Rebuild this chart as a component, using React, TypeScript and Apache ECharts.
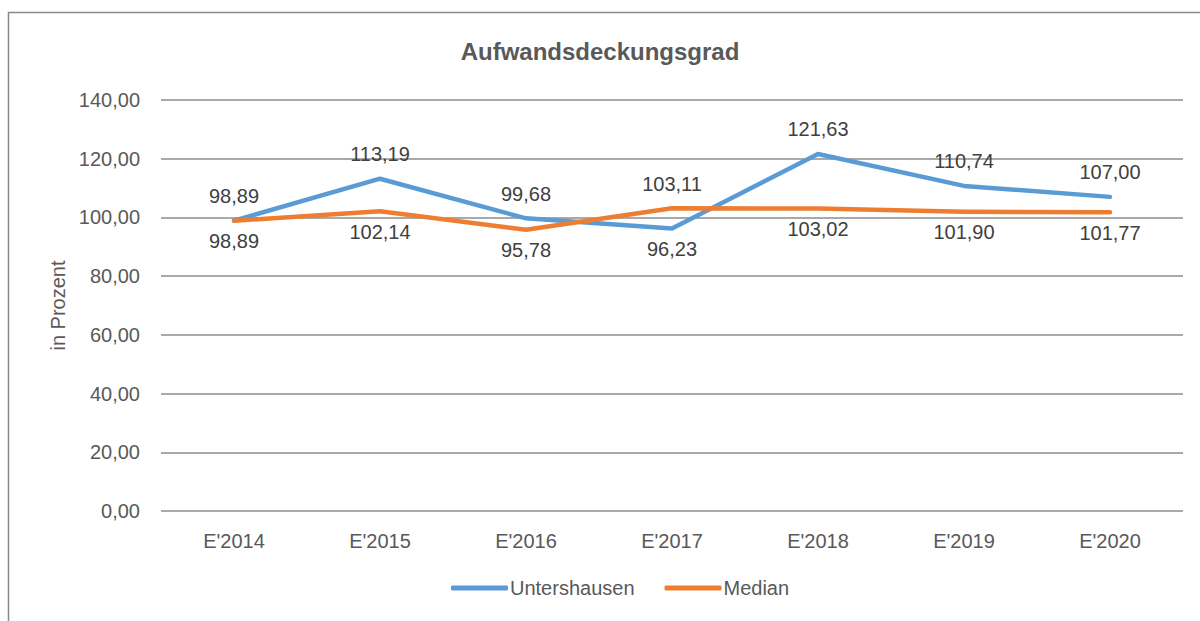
import React, { useEffect, useRef } from "react";
import * as echarts from "echarts";

const categories = ["E'2014", "E'2015", "E'2016", "E'2017", "E'2018", "E'2019", "E'2020"];
const untershausen = [98.89, 113.19, 99.68, 96.23, 121.63, 110.74, 107.0];
const median = [98.89, 102.14, 95.78, 103.11, 103.02, 101.9, 101.77];
const untershausenLabelPos = ["top", "top", "top", "bottom", "top", "top", "top"];
const medianLabelPos = ["bottom", "bottom", "bottom", "top", "bottom", "bottom", "bottom"];
const yTicks = { min: 0, max: 140, interval: 20 };

const FONT = "'Liberation Sans', Arial, sans-serif";
const fmt = (v: number) => v.toFixed(2).replace(".", ",");

export default function App() {
  const ref = useRef<HTMLDivElement>(null);
  useEffect(() => {
    if (!ref.current) return;
    const chart = echarts.init(ref.current, undefined, { renderer: "svg" });
    const labelStyle = {
      show: true,
      fontFamily: FONT,
      fontSize: 20,
      color: "#404040",
      distance: 14,
      formatter: (p: any) => fmt(p.value),
    };
    const pointLabel = (pos: string) => ({ position: pos, distance: pos === "top" ? 14 : 10 });
    chart.setOption({
      animation: false,
      backgroundColor: "#ffffff",
      textStyle: { fontFamily: FONT },
      graphic: [
        {
          type: "rect",
          shape: { x: 8.5, y: 12.5, width: 1300, height: 800 },
          style: { fill: "none", stroke: "#898989", lineWidth: 1.5 },
          silent: true,
          z: -10,
        },
      ],
      title: {
        text: "Aufwandsdeckungsgrad",
        left: "center",
        top: 34,
        textStyle: {
          fontFamily: FONT,
          fontWeight: "bold",
          fontSize: 24,
          color: "#595959",
        },
      },
      legend: {
        bottom: 18,
        left: 446,
        itemWidth: 57,
        itemHeight: 5,
        itemGap: 30,
        icon: "roundRect",
        textStyle: { fontFamily: FONT, fontSize: 20, color: "#595959", padding: [0, 0, 0, -3] },
        data: ["Untershausen", "Median"],
      },
      grid: { left: 161, right: 17, top: 100, bottom: 110 },
      xAxis: {
        type: "category",
        data: categories,
        boundaryGap: true,
        axisLine: { show: false },
        axisTick: { show: false },
        axisLabel: { fontFamily: FONT, fontSize: 20, color: "#595959", margin: 20 },
      },
      yAxis: {
        type: "value",
        min: yTicks.min,
        max: yTicks.max,
        interval: yTicks.interval,
        name: "in Prozent",
        nameLocation: "middle",
        nameGap: 86,
        nameRotate: 90,
        nameTextStyle: { fontFamily: FONT, fontSize: 20, color: "#595959" },
        axisLine: { show: false },
        axisTick: { show: false },
        axisLabel: { fontFamily: FONT, fontSize: 20, color: "#595959", margin: 21, formatter: (v: number) => fmt(v) },
        splitLine: { lineStyle: { color: "#8c8c8c", width: 1.5 } },
      },
      series: [
        {
          name: "Untershausen",
          type: "line",
          data: untershausen.map((v, i) => ({ value: v, label: pointLabel(untershausenLabelPos[i]) })),
          symbol: "circle",
          symbolSize: 1,
          showSymbol: true,
          lineStyle: { color: "#5B9BD5", width: 4.5, cap: "round", join: "round" },
          itemStyle: { color: "#5B9BD5" },
          label: labelStyle,
          z: 3,
        },
        {
          name: "Median",
          type: "line",
          data: median.map((v, i) => ({ value: v, label: pointLabel(medianLabelPos[i]) })),
          symbol: "circle",
          symbolSize: 1,
          showSymbol: true,
          lineStyle: { color: "#ED7D31", width: 4.5, cap: "round", join: "round" },
          itemStyle: { color: "#ED7D31" },
          label: labelStyle,
          z: 4,
        },
      ],
    });
    return () => chart.dispose();
  }, []);
  return <div ref={ref} style={{ position: "absolute", left: 0, top: 0, width: 1200, height: 621 }} />;
}
